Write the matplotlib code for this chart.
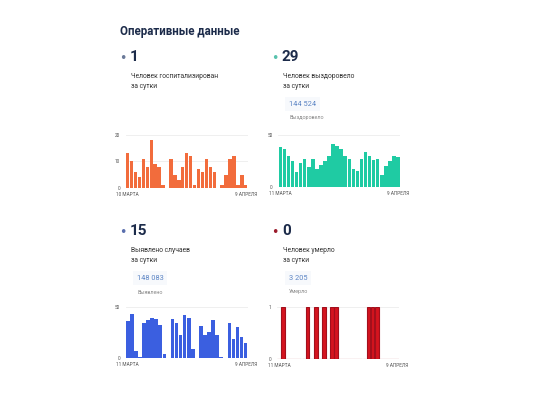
import matplotlib
matplotlib.use("Agg")
import matplotlib.pyplot as plt
import numpy as np

plt.rcParams['font.family'] = ['Roboto', 'DejaVu Sans']

# ---- data ----
title = "Оперативные данные"

hosp_values = [13, 10, 6, 4, 11, 8, 18, 9, 8, 1, 0, 11, 5, 3, 8, 13, 12, 1, 7, 6,
               11, 8, 6, 0, 1, 5, 11, 12, 1, 5, 1]
hosp_dates = ["10 МАРТА", "9 АПРЕЛЯ"]
hosp_yticks = [0, 10, 20]

recov_values = [38, 36, 30, 25, 14, 23, 27, 19, 27, 17, 21, 25, 30, 41, 39, 36, 30, 27,
                17, 15, 27, 34, 30, 26, 27, 11, 20, 25, 30, 29]
recov_dates = ["11 МАРТА", "9 АПРЕЛЯ"]
recov_yticks = [0, 50]

cases_values = [36, 43, 7, 1, 34, 37, 39, 38, 32, 4, 0, 38, 34, 22, 42, 39, 9, 0, 31, 22,
                25, 37, 22, 1, 0, 34, 19, 30, 20, 15]
cases_dates = ["11 МАРТА", "9 АПРЕЛЯ"]
cases_yticks = [0, 50]

death_values = [0, 1, 0, 0, 0, 0, 0, 1, 0, 1, 0, 1, 0, 1, 1, 0, 0, 0, 0, 0,
                0, 0, 1, 1, 1, 0, 0, 0, 0, 0]
death_dates = ["11 МАРТА", "9 АПРЕЛЯ"]
death_yticks = [0, 1]

big_numbers = ["1", "29", "15", "0"]
captions = ["Человек госпитализирован\nза сутки", "Человек выздоровело\nза сутки",
            "Выявлено случаев\nза сутки", "Человек умерло\nза сутки"]
totals = [None, "144 524", "148 083", "3 205"]
total_labels = [None, "Выздоровело", "Выявлено", "Умерло"]

W, H = 550, 412
fig = plt.figure(figsize=(W / 100, H / 100), dpi=100)
fig.patch.set_facecolor("white")

def fx(x):
    return x / W

def fy(y):
    return 1 - y / H

navy = "#1c2b4a"
fig.text(fx(120), fy(32), title, fontsize=8.3, fontweight="bold", color=navy,
         va="center", ha="left")

bullet_colors = ["#6b7a99", "#58c2ad", "#5a6fae", "#9b1b2b"]
blocks = [(123, 57), (275, 57), (123, 231), (275, 231)]
for i, (bx, by) in enumerate(blocks):
    fig.text(fx(bx), fy(by + 1.5), "•", fontsize=9, color=bullet_colors[i],
             va="center", ha="center", family="DejaVu Sans")
    fig.text(fx(bx + 7), fy(by), big_numbers[i], fontsize=11, fontweight="bold",
             color=navy, va="center", ha="left")
    fig.text(fx(bx + 8), fy(by + 24.5), captions[i], fontsize=4.9, color="#333333",
             va="center", ha="left", linespacing=1.8)
    if totals[i] is not None:
        fig.text(fx(bx + 14), fy(by + 47), totals[i], fontsize=5.3, color="#5b84c4",
                 va="center", ha="left",
                 bbox=dict(boxstyle="square,pad=0.5", facecolor="#f7f9fc", edgecolor="none"))
        fig.text(fx(bx + 14), fy(by + 61), total_labels[i], fontsize=3.9, color="#888888",
                 va="center", ha="left")

def bar_chart(rect, values, color, yticks, dates, edge=None):
    ax = fig.add_axes(rect)
    x = np.arange(len(values))
    if edge:
        ax.bar(x, values, width=0.92, color=color, edgecolor=edge, linewidth=0.8)
    else:
        ax.bar(x, values, width=0.88, color=color)
    ax.set_xlim(-0.5, len(values) - 0.5)
    ax.set_ylim(0, yticks[-1])
    for s in ax.spines.values():
        s.set_visible(False)
    ax.set_yticks(yticks)
    ax.set_yticklabels([str(t) for t in yticks])
    ax.set_xticks([0, len(values) - 1])
    ax.set_xticklabels(dates)
    ax.tick_params(axis="both", length=0, labelsize=3.4, labelcolor="#555555")
    ax.tick_params(axis="y", pad=4)
    ax.tick_params(axis="x", pad=3)
    ax.yaxis.grid(True, color="#ececec", linewidth=0.6)
    ax.set_axisbelow(True)
    ax.patch.set_alpha(0)
    return ax

bar_chart([fx(125.7), fy(187.7), 122 / W, 52.7 / H], hosp_values, "#f26c3c",
          hosp_yticks, hosp_dates)
bar_chart([fx(278.3), fy(186.7), 121.7 / W, 51.7 / H], recov_values, "#1fcba3",
          recov_yticks, recov_dates)
bar_chart([fx(125.7), fy(358), 122 / W, 51.3 / H], cases_values, "#3b5fe0",
          cases_yticks, cases_dates)
bar_chart([fx(277), fy(359), 122 / W, 52.3 / H], death_values, "#d4141f",
          death_yticks, death_dates, edge="#a30f1c")

fig.savefig("out.png", dpi=100, facecolor="white")
